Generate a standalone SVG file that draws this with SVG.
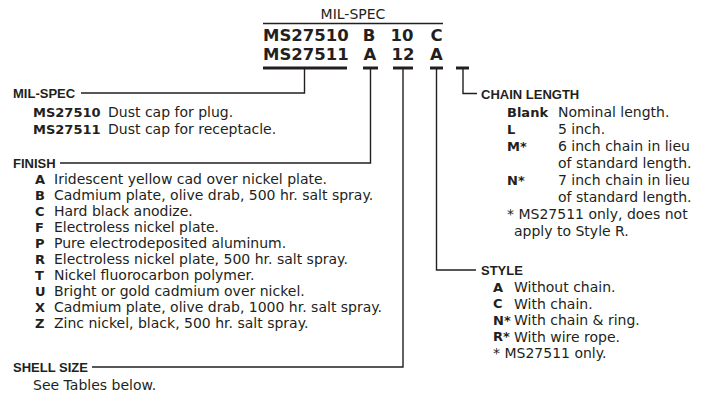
<svg xmlns="http://www.w3.org/2000/svg" width="712" height="405" viewBox="0 0 712 405">
<style>
text{fill:#231f20;font-family:"DejaVu Sans",sans-serif;font-size:14px}
.h{font-family:"Liberation Sans",Arial,sans-serif;font-weight:bold;font-size:13px}
.c{font-weight:bold;font-size:13px}
.big{font-weight:bold;font-size:16.5px}
.m{text-anchor:middle}
.ln{fill:none;stroke:#231f20;stroke-width:1.4}
.bar{fill:#231f20}
</style>
<rect width="712" height="405" fill="#fff"/>
<g id="part-number">
<text x="353" y="18.5" class="m" font-size="13.5">MIL-SPEC</text>
<line class="ln" x1="263" y1="23.5" x2="443" y2="23.5" stroke-width="1.1"/>
<text class="big" x="263" y="41">MS27510</text>
<text class="big m" x="369" y="41">B</text>
<text class="big m" x="402" y="41">10</text>
<text class="big m" x="436.5" y="41">C</text>
<text class="big" x="263" y="60">MS27511</text>
<text class="big m" x="370" y="60">A</text>
<text class="big m" x="403" y="60">12</text>
<text class="big m" x="436.5" y="60">A</text>
<rect class="bar" x="263" y="66.5" width="84" height="3"/>
<rect class="bar" x="363" y="66.5" width="15" height="3"/>
<rect class="bar" x="393" y="66.5" width="20" height="3"/>
<rect class="bar" x="430" y="66.5" width="13" height="3"/>
<rect class="bar" x="456" y="66.5" width="13" height="3"/>
</g>
<g id="connectors">
<path class="ln" d="M304.5 69V93H81"/>
<path class="ln" d="M370.5 69V163H60"/>
<path class="ln" d="M403 69V367H92"/>
<path class="ln" d="M436.5 69V270H476"/>
<path class="ln" d="M463 69V93.5H477"/>
</g>
<g id="mil-spec">
<text class="h" x="13" y="97.6">MIL-SPEC</text>
<text class="c" x="33" y="116.7">MS27510</text><text x="108" y="117">Dust cap for plug.</text>
<text class="c" x="33" y="133.7">MS27511</text><text x="108" y="134">Dust cap for receptacle.</text>
</g>
<g id="finish">
<text class="h" x="13" y="167.6">FINISH</text>
<text class="c" x="35" y="183.7">A</text><text x="54" y="184">Iridescent yellow cad over nickel plate.</text>
<text class="c" x="35" y="199.7">B</text><text x="54" y="200">Cadmium plate, olive drab, 500 hr. salt spray.</text>
<text class="c" x="35" y="215.7">C</text><text x="54" y="216">Hard black anodize.</text>
<text class="c" x="35" y="231.7">F</text><text x="54" y="232">Electroless nickel plate.</text>
<text class="c" x="35" y="247.7">P</text><text x="54" y="248">Pure electrodeposited aluminum.</text>
<text class="c" x="35" y="263.7">R</text><text x="54" y="264">Electroless nickel plate, 500 hr. salt spray.</text>
<text class="c" x="35" y="279.7">T</text><text x="54" y="280">Nickel fluorocarbon polymer.</text>
<text class="c" x="35" y="295.7">U</text><text x="54" y="296">Bright or gold cadmium over nickel.</text>
<text class="c" x="35" y="311.7">X</text><text x="54" y="312">Cadmium plate, olive drab, 1000 hr. salt spray.</text>
<text class="c" x="35" y="327.7">Z</text><text x="54" y="328">Zinc nickel, black, 500 hr. salt spray.</text>
</g>
<g id="shell-size">
<text class="h" x="13" y="371.6">SHELL SIZE</text>
<text x="33" y="390">See Tables below.</text>
</g>
<g id="chain-length">
<text class="h" x="481" y="98.6">CHAIN LENGTH</text>
<text class="c" x="507" y="116.7">Blank</text><text x="558" y="117">Nominal length.</text>
<text class="c" x="507" y="133.7">L</text><text x="558" y="134">5 inch.</text>
<text class="c" x="507" y="150.7">M*</text><text x="558" y="151">6 inch chain in lieu</text>
<text x="558" y="168">of standard length.</text>
<text class="c" x="507" y="184.7">N*</text><text x="558" y="185">7 inch chain in lieu</text>
<text x="558" y="202">of standard length.</text>
<text x="507" y="219">* MS27511 only, does not</text>
<text x="514" y="236">apply to Style R.</text>
</g>
<g id="style">
<text class="h" x="481" y="274.6">STYLE</text>
<text class="c" x="493" y="291.7">A</text><text x="514" y="292">Without chain.</text>
<text class="c" x="493" y="308.2">C</text><text x="514" y="308.5">With chain.</text>
<text class="c" x="493" y="324.7">N*</text><text x="514" y="325">With chain &amp; ring.</text>
<text class="c" x="493" y="341.2">R*</text><text x="514" y="341.5">With wire rope.</text>
<text x="493" y="358">* MS27511 only.</text>
</g>
</svg>
